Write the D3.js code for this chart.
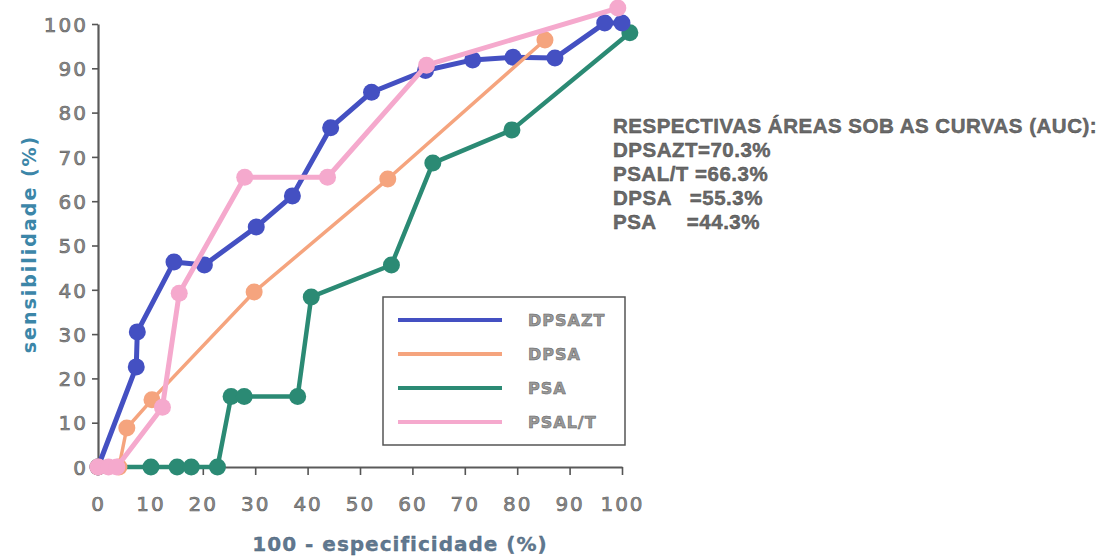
<!DOCTYPE html>
<html>
<head>
<meta charset="utf-8">
<script src="https://cdn.jsdelivr.net/npm/d3@7/dist/d3.min.js"></script>
<style>
  html, body { margin: 0; padding: 0; background: #fff; }
  svg { display: block; }
</style>
</head>
<body>
<svg id="chart" width="1107" height="556"></svg>
<script>
// ROC curves: sensitivity vs (100 - specificity), one series per marker
const seriesNames = ["DPSAZT", "DPSA", "PSA", "PSAL/T"];
const seriesColors = ["#4450c2", "#f5a47e", "#2b8a74", "#f5a9cd"];

const dpsaztX = [0, 7.3, 7.5, 14.5, 20.3, 30.2, 37.1, 44.4, 52.2, 62.5, 71.5, 79.2, 87.2, 96.7, 100];
const dpsaztY = [0, 22.6, 30.5, 46.3, 45.6, 54.2, 61.2, 76.6, 84.6, 89.5, 91.9, 92.5, 92.3, 100.2, 100.2];

const dpsaX = [0, 4, 5.5, 10.3, 29.8, 55.3, 85.3];
const dpsaY = [0, 0, 8.8, 15.2, 39.5, 65.0, 96.4];

const psaX = [0, 10.1, 15.1, 17.8, 22.8, 25.4, 27.9, 38.1, 40.7, 56.0, 63.9, 79.0, 101.5];
const psaY = [0, 0, 0, 0, 0, 15.9, 15.9, 15.9, 38.4, 45.6, 68.6, 76.1, 98.0];

const psaltX = [0, 2, 3.6, 12.3, 15.5, 28.0, 43.8, 62.7, 99.2];
const psaltY = [0, 0, 0, 13.5, 39.2, 65.4, 65.4, 90.7, 103.6];

const xTicks = [0, 10, 20, 30, 40, 50, 60, 70, 80, 90, 100];
const yTicks = [0, 10, 20, 30, 40, 50, 60, 70, 80, 90, 100];

const aucTitle = "RESPECTIVAS ÁREAS SOB AS CURVAS (AUC):";
const aucLines = ["DPSAZT=70.3%", "PSAL/T =66.3%", "DPSA   =55.3%", "PSA     =44.3%"];

const xTitle = "100 - especificidade (%)";
const yTitle = "sensibilidade (%)";

const svg = d3.select("#chart");

const x = d3.scaleLinear().domain([0, 100]).range([98, 622]);
const y = d3.scaleLinear().domain([0, 100]).range([467, 24]);

const tickFont = "'DejaVu Sans', sans-serif";

// Axes
const xAxis = svg.append("g")
  .attr("transform", `translate(0,${y(0)})`)
  .call(d3.axisBottom(x).tickValues(xTicks).tickSize(8).tickPadding(22).tickSizeOuter(0));
const yAxis = svg.append("g")
  .attr("transform", `translate(${x(0)},0)`)
  .call(d3.axisLeft(y).tickValues(yTicks).tickSize(6).tickPadding(6).tickSizeOuter(0));

[xAxis, yAxis].forEach(g => {
  g.select(".domain").attr("stroke", "#5a5a5a").attr("stroke-width", 2.2);
  g.selectAll(".tick line").attr("stroke", "#555").attr("stroke-width", 1.6);
  g.selectAll(".tick text")
    .attr("fill", "#8d8d8d")
    .attr("stroke", "#5d5d5d")
    .attr("stroke-width", 0.6)
    .style("font-family", tickFont)
    .style("font-size", "20px")
    .style("letter-spacing", "2px");
});
yAxis.selectAll(".tick text").attr("dy", "0.36em").attr("x", -10);

// Axis titles
svg.append("text")
  .attr("x", 400).attr("y", 551)
  .attr("text-anchor", "middle")
  .style("font-family", tickFont)
  .style("font-size", "20px")
  .style("font-weight", "bold")
  .style("letter-spacing", "1px")
  .attr("fill", "#5f7890")
  .attr("stroke", "#4a5d70")
  .attr("stroke-width", 0.3)
  .text(xTitle);

svg.append("text")
  .attr("transform", "translate(36,244) rotate(-90)")
  .attr("text-anchor", "middle")
  .style("font-family", tickFont)
  .style("font-size", "19px")
  .style("font-weight", "bold")
  .style("letter-spacing", "2px")
  .attr("fill", "#3c86a8")
  .text(yTitle);

// Curves
const curves = [
  { name: seriesNames[2], color: seriesColors[2], xs: psaX, ys: psaY, w: 4.5 },
  { name: seriesNames[0], color: seriesColors[0], xs: dpsaztX, ys: dpsaztY, w: 5 },
  { name: seriesNames[1], color: seriesColors[1], xs: dpsaX, ys: dpsaY, w: 3.5 },
  { name: seriesNames[3], color: seriesColors[3], xs: psaltX, ys: psaltY, w: 5 }
];

const line = d3.line().x(d => x(d[0])).y(d => y(d[1]));

curves.forEach(c => {
  const pts = c.xs.map((v, i) => [v, c.ys[i]]);
  const g = svg.append("g");
  g.append("path")
    .attr("d", line(pts))
    .attr("fill", "none")
    .attr("stroke", c.color)
    .attr("stroke-width", c.w)
    .attr("stroke-linejoin", "round");
  g.selectAll("circle").data(pts).join("circle")
    .attr("cx", d => x(d[0]))
    .attr("cy", d => y(d[1]))
    .attr("r", 8.5)
    .attr("fill", c.color);
});

// Legend
const legend = svg.append("g");
legend.append("rect")
  .attr("x", 383).attr("y", 297).attr("width", 242).attr("height", 148)
  .attr("fill", "#fff").attr("stroke", "#555").attr("stroke-width", 1.5);

const legendY = d3.scalePoint().domain(seriesNames).range([320, 422]);
seriesNames.forEach((n, i) => {
  legend.append("line")
    .attr("x1", 398).attr("x2", 502)
    .attr("y1", legendY(n)).attr("y2", legendY(n))
    .attr("stroke", seriesColors[i]).attr("stroke-width", 4);
  legend.append("text")
    .attr("x", 528).attr("y", legendY(n)).attr("dy", "0.36em")
    .style("font-family", tickFont)
    .style("font-size", "16px")
    .style("font-weight", "bold")
    .style("letter-spacing", "1px")
    .attr("fill", "#9a9a9a")
    .attr("stroke", "#5a5a5a")
    .attr("stroke-width", 0.5)
    .text(n);
});

// AUC annotation
const auc = svg.append("g")
  .style("font-family", "'Liberation Sans', Arial, sans-serif")
  .style("font-size", "20.5px")
  .style("font-weight", "bold")
  .style("letter-spacing", "0.5px")
  .attr("fill", "#6a6a6a")
  .attr("stroke", "#444")
  .attr("stroke-width", 0.4);
[aucTitle].concat(aucLines).forEach((t, i) => {
  auc.append("text")
    .attr("x", 613).attr("y", 133 + i * 24)
    .attr("xml:space", "preserve")
    .style("white-space", "pre")
    .text(t);
});
</script>
</body>
</html>
